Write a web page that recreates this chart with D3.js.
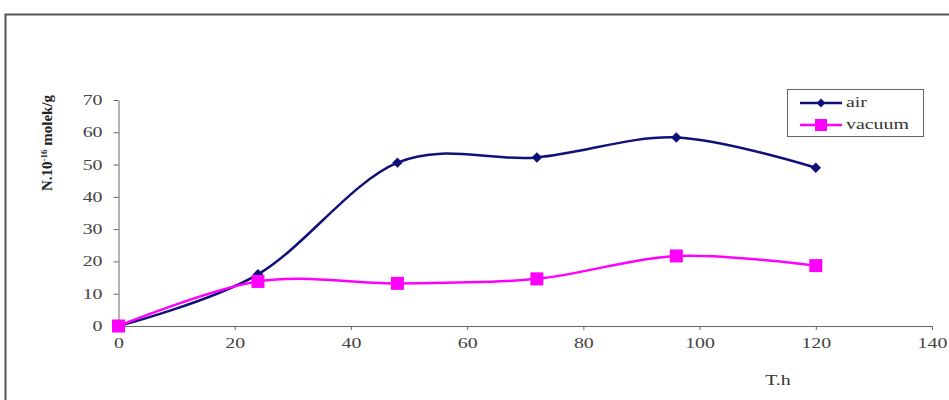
<!DOCTYPE html>
<html><head><meta charset="utf-8">
<script src="https://cdn.jsdelivr.net/npm/d3@7"></script>
<style>body{margin:0;background:#fff}svg{display:block}text{font-family:"Liberation Serif","Times New Roman",Times,serif}</style>
</head><body>
<svg id="c" width="949" height="400"></svg>
<script>
const hours = [0, 24, 48, 72, 96, 120];
const airValues = [0, 16, 50.6, 52.2, 58.4, 49.0];
const vacuumValues = [0, 13.8, 13.2, 14.6, 21.7, 18.7];
const xTicks = [0, 20, 40, 60, 80, 100, 120, 140];
const yTicks = [0, 10, 20, 30, 40, 50, 60, 70];
const seriesNames = ["air", "vacuum"];

const svg = d3.select("#c");
const font = "Liberation Serif, Times New Roman, serif";
const stretch = 1.42;
function widen(sel) {
  sel.each(function () {
    const w = this.getComputedTextLength();
    if (w > 0) d3.select(this).attr("textLength", w * stretch).attr("lengthAdjust", "spacingAndGlyphs");
  });
}

// outer frame
svg.append("rect").attr("x", 5.5).attr("y", 14.5).attr("width", 1000).attr("height", 500)
  .attr("fill", "#fff").attr("stroke", "#555").attr("stroke-width", 2);

const x = d3.scaleLinear().domain([0, 140]).range([118.5, 932]);
const y = d3.scaleLinear().domain([0, 70]).range([326, 100]);

const gx = svg.append("g").attr("transform", "translate(0,326)")
  .call(d3.axisBottom(x).tickValues(xTicks).tickSize(4).tickPadding(8).tickSizeOuter(0));
const gy = svg.append("g").attr("transform", "translate(118.5,0)")
  .call(d3.axisLeft(y).tickValues(yTicks).tickSize(5).tickPadding(11).tickSizeOuter(0));
[gx, gy].forEach(g => {
  g.select(".domain").attr("stroke", "#666");
  g.selectAll(".tick line").attr("stroke", "#666");
  g.selectAll("text").attr("font-family", font).attr("font-size", 14).attr("fill", "#444");
  widen(g.selectAll("text"));
});

// axis titles
const xt = svg.append("text").attr("x", 778).attr("y", 385).attr("text-anchor", "middle")
  .attr("font-family", font).attr("font-size", 14).attr("fill", "#333").text("T.h");
widen(xt);
const yl = svg.append("text").attr("transform", "translate(52,143) rotate(-90)")
  .attr("text-anchor", "middle").attr("font-family", font).attr("font-size", 15)
  .attr("font-weight", "bold").attr("fill", "#222");
yl.append("tspan").text("N.10");
yl.append("tspan").attr("dy", -5).attr("font-size", 9).text("-16");
yl.append("tspan").attr("dy", 5).text(" molek/g");

const line = d3.line().x((d, i) => x(hours[i])).y(d => y(d)).curve(d3.curveCatmullRom.alpha(0));

const colors = ["#10107a", "#ff00ff"];
const data = [airValues, vacuumValues];

[0, 1].forEach(k => {
  svg.append("path").datum(data[k]).attr("d", line).attr("fill", "none")
    .attr("stroke", colors[k]).attr("stroke-width", 2.5);
});
// markers
svg.append("g").selectAll("path").data(airValues).join("path")
  .attr("transform", (d, i) => `translate(${x(hours[i])},${y(d)})`)
  .attr("d", d3.symbol(d3.symbolDiamond2, 70)()).attr("fill", colors[0]);
svg.append("g").selectAll("rect").data(vacuumValues).join("rect")
  .attr("x", (d, i) => x(hours[i]) - 6.5).attr("y", d => y(d) - 6.5)
  .attr("width", 13).attr("height", 13).attr("fill", colors[1]);

// legend
const lg = svg.append("g");
lg.append("rect").attr("x", 787.5).attr("y", 89.5).attr("width", 136).attr("height", 47)
  .attr("fill", "#fff").attr("stroke", "#666").attr("stroke-width", 1);
seriesNames.forEach((n, k) => {
  const ly = [103, 125][k];
  lg.append("line").attr("x1", 800).attr("x2", 842).attr("y1", ly).attr("y2", ly)
    .attr("stroke", colors[k]).attr("stroke-width", 2.5);
  if (k === 0) {
    lg.append("path").attr("transform", `translate(821,${ly})`)
      .attr("d", d3.symbol(d3.symbolDiamond2, 50)()).attr("fill", colors[0]);
  } else {
    lg.append("rect").attr("x", 815).attr("y", ly - 6).attr("width", 12).attr("height", 12).attr("fill", colors[1]);
  }
  const t = lg.append("text").attr("x", 846).attr("y", ly + 4).attr("font-family", font)
    .attr("font-size", 14).attr("fill", "#333").text(n);
  widen(t);
});
</script>
</body></html>
